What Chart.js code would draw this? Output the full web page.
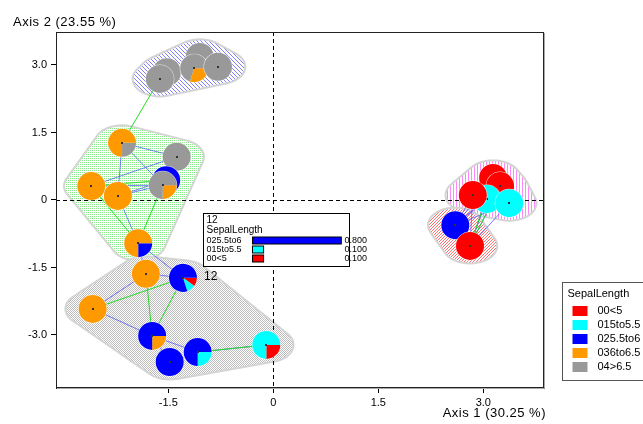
<!DOCTYPE html>
<html><head><meta charset="utf-8">
<script src="https://cdn.jsdelivr.net/npm/chart.js@4/dist/chart.umd.min.js"></script>
<style>html,body{margin:0;padding:0;background:#fff;}#wrap{width:643px;height:424px;position:relative;}</style>
</head><body><div id="wrap"><canvas id="c" width="643" height="424"></canvas></div>
<script>
// ---------- data ----------
const categories = ['00<5', '015to5.5', '025.5to6', '036to6.5', '04>6.5'];
const categoryColors = ['#ff0000', '#00ffff', '#0000ff', '#ff9900', '#999999'];
const variableName = 'SepalLength';
const xAxisTitle = 'Axis 1 (30.25 %)';
const yAxisTitle = 'Axis 2 (23.55 %)';
const xTicks = [-1.5, 0, 1.5, 3.0];
const xTickLabels = ['-1.5', '0', '1.5', '3.0'];
const yTicks = [-3.0, -1.5, 0, 1.5, 3.0];
const yTickLabels = ['-3.0', '-1.5', '0', '1.5', '3.0'];

const nodeX = [-1.52, -1.62, -1.05, -1.13, -0.79,
               -2.16, -1.38, -1.53, -1.58, -2.60, -2.22, -1.93,
               -1.82, -1.29, -2.58, -1.73, -1.08, -1.48, -0.10,
               3.14, 3.24, 3.05, 2.85, 3.37, 2.60, 2.81];
const nodeY = [2.84, 2.69, 3.18, 2.93, 2.96,
               1.27, 0.96, 0.44, 0.33, 0.31, 0.09, -0.96,
               -1.64, -1.73, -2.42, -3.02, -3.38, -3.60, -3.22,
               0.49, 0.31, 0.02, 0.11, -0.07, -0.56, -1.02];
const nodeGroup = [0, 0, 0, 0, 0,
                   1, 1, 1, 1, 1, 1, 1,
                   2, 2, 2, 2, 2, 2, 2,
                   3, 3, 3, 3, 3, 4, 4];
// category shares of each node
const shareLt5    = [0, 0, 0, 0, 0,   0, 0, 0, 0, 0, 0, 0,      0, 0.1, 0, 0, 0, 0, 0.25,   1, 1, 0, 1, 0, 0, 1];
const share5to55  = [0, 0, 0, 0, 0,   0, 0, 0, 0, 0, 0, 0,      0, 0.1, 0, 0, 0.25, 0, 0.75, 0, 0, 1, 0, 1, 0, 0];
const share55to6  = [0, 0, 0, 0, 0,   0, 0, 1, 0, 0, 0, 0.25,   0, 0.8, 0, 0.75, 0.75, 1, 0, 0, 0, 0, 0, 0, 1, 0];
const share6to65  = [0, 0, 0, 0.3, 0, 0.75, 0, 0, 0.25, 1, 1, 0.75, 1, 0, 1, 0.25, 0, 0, 0,  0, 0, 0, 0, 0, 0, 0];
const shareGt65   = [1, 1, 1, 0.7, 1, 0.25, 1, 0, 0.75, 0, 0, 0, 0, 0, 0, 0, 0, 0, 0,      0, 0, 0, 0, 0, 0, 0];

const edgesBlue = [[5,8],[5,10],[5,6],[9,8],[10,8],[10,7],[9,10],[10,11],[6,9],
                   [11,12],[11,13],[12,13],[12,14],[14,15],[15,16],[15,17],[16,18],
                   [24,19],[24,20],[24,22],[24,23],[24,21],[25,19],[25,20],[25,22],[25,23],[25,21]];
const edgesGreen = [[1,5],[9,7],[9,11],[8,11],[14,13],[12,15],[13,15],[16,18],[25,19],[25,20]];

const labelledNode = 13;
const labelledNodeName = '12';

// ---------- drawing helpers ----------
const shares = [shareLt5, share5to55, share55to6, share6to65, shareGt65];

function tile(ctx, size, color, cells) {
  const c = document.createElement('canvas');
  c.width = size; c.height = size;
  const g = c.getContext('2d');
  g.fillStyle = '#ffffff'; g.fillRect(0, 0, size, size);
  g.fillStyle = color;
  cells.forEach(([x, y]) => g.fillRect(x, y, 1, 1));
  return ctx.createPattern(c, 'repeat');
}
function makePattern(ctx, kind) {
  if (kind === 'blue') return tile(ctx, 4, '#8080ff', [[0,0],[1,1],[2,2],[3,3]]);
  if (kind === 'green') return tile(ctx, 2, '#88ec88', [[0,0]]);
  if (kind === 'gray') return tile(ctx, 2, '#bcbcbc', [[0,0],[1,1]]);
  if (kind === 'pink') return tile(ctx, 3, '#ff88ff', [[0,0],[0,1],[0,2]]);
  return tile(ctx, 3, '#ff7070', [[2,0],[1,1],[0,2]]);
}
const groupPatterns = ['blue', 'green', 'gray', 'pink', 'salmon'];

function convexHull(pts) {
  pts = pts.slice().sort((a,b) => a[0]-b[0] || a[1]-b[1]);
  const cross = (o,a,b) => (a[0]-o[0])*(b[1]-o[1]) - (a[1]-o[1])*(b[0]-o[0]);
  const lower = [], upper = [];
  for (const p of pts) { while (lower.length >= 2 && cross(lower[lower.length-2], lower[lower.length-1], p) <= 0) lower.pop(); lower.push(p); }
  for (let i = pts.length-1; i >= 0; i--) { const p = pts[i]; while (upper.length >= 2 && cross(upper[upper.length-2], upper[upper.length-1], p) <= 0) upper.pop(); upper.push(p); }
  upper.pop(); lower.pop();
  return lower.concat(upper);
}

const FONT = '"Liberation Sans", Arial, sans-serif';

const mapPlugin = {
  id: 'mapPlugin',
  beforeDatasetsDraw(chart) {
    const ctx = chart.ctx, xs = chart.scales.x, ys = chart.scales.y, a = chart.chartArea;
    const px = v => xs.getPixelForValue(v), py = v => ys.getPixelForValue(v);
    ctx.save();
    ctx.beginPath(); ctx.rect(a.left, a.top, a.right - a.left, a.bottom - a.top); ctx.clip();
    // group hulls
    const pad = 0.39;
    const rx = Math.abs(px(pad) - px(0)), ry = Math.abs(py(pad) - py(0));
    const nGroups = Math.max(...nodeGroup) + 1;
    for (let g = 0; g < nGroups; g++) {
      const pts = [];
      nodeGroup.forEach((gg, i) => {
        if (gg !== g) return;
        const cx = px(nodeX[i]), cy = py(nodeY[i]);
        for (let k = 0; k < 40; k++) { const t = k / 40 * Math.PI * 2; pts.push([cx + rx*Math.cos(t), cy + ry*Math.sin(t)]); }
      });
      const h = convexHull(pts);
      ctx.beginPath();
      h.forEach((p, k) => k ? ctx.lineTo(p[0], p[1]) : ctx.moveTo(p[0], p[1]));
      ctx.closePath();
      ctx.fillStyle = makePattern(ctx, groupPatterns[g]);
      ctx.fill();
      ctx.strokeStyle = '#d4d4d4'; ctx.lineWidth = 2; ctx.stroke();
    }
    // dashed origin lines
    ctx.strokeStyle = '#000'; ctx.lineWidth = 1; ctx.setLineDash([4, 3]);
    ctx.beginPath();
    ctx.moveTo(Math.round(px(0)) + 0.5, a.top); ctx.lineTo(Math.round(px(0)) + 0.5, a.bottom);
    ctx.moveTo(a.left, Math.round(py(0)) + 0.5); ctx.lineTo(a.right, Math.round(py(0)) + 0.5);
    ctx.stroke();
    ctx.setLineDash([]);
    // edges
    const drawEdges = (edges, color) => {
      ctx.strokeStyle = color; ctx.lineWidth = 1;
      edges.forEach(([i, j]) => {
        ctx.beginPath(); ctx.moveTo(px(nodeX[i]), py(nodeY[i])); ctx.lineTo(px(nodeX[j]), py(nodeY[j])); ctx.stroke();
      });
    };
    drawEdges(edgesBlue, 'rgba(80,80,255,0.75)');
    drawEdges(edgesGreen, '#22dd22');
    // pies
    const r = 14;
    nodeX.forEach((xv, i) => {
      const cx = px(xv), cy = py(nodeY[i]);
      const order = [0,1,2,3,4].filter(k => shares[k][i] > 0).sort((p, q) => shares[p][i] - shares[q][i] || p - q);
      const total = order.reduce((s, k) => s + shares[k][i], 0);
      let ang = 0;
      ctx.beginPath(); ctx.arc(cx, cy, r + 0.5, 0, Math.PI*2); ctx.fillStyle = 'rgba(255,255,255,0.8)'; ctx.fill();
      order.forEach(k => {
        const sweep = shares[k][i] / total * Math.PI * 2;
        ctx.beginPath(); ctx.moveTo(cx, cy); ctx.arc(cx, cy, r, ang, ang + sweep); ctx.closePath();
        ctx.fillStyle = categoryColors[k]; ctx.fill();
        ang += sweep;
      });
      ctx.fillStyle = '#333'; ctx.fillRect(Math.round(cx) - 1, Math.round(cy) - 1, 2, 2);
    });
    ctx.restore();
  },
  afterDraw(chart) {
    const ctx = chart.ctx, xs = chart.scales.x, ys = chart.scales.y, a = chart.chartArea;
    const px = v => xs.getPixelForValue(v), py = v => ys.getPixelForValue(v);
    ctx.save();
    // frame
    ctx.strokeStyle = '#222'; ctx.lineWidth = 1;
    ctx.strokeRect(a.left + 0.5, a.top + 0.5, a.right - a.left - 1, a.bottom - a.top - 1);
    ctx.strokeStyle = '#aaa';
    ctx.beginPath(); ctx.moveTo(a.right + 0.5, a.top + 1); ctx.lineTo(a.right + 0.5, a.bottom + 0.5); ctx.lineTo(a.left + 1, a.bottom + 0.5); ctx.stroke();
    // axis titles
    ctx.fillStyle = '#000'; ctx.font = '13px ' + FONT; ctx.textBaseline = 'middle';
    ctx.letterSpacing = '0.5px';
    ctx.textAlign = 'left'; ctx.fillText(yAxisTitle, 13, 22);
    ctx.textAlign = 'right'; ctx.fillText(xAxisTitle, 546, 413);
    ctx.letterSpacing = '0px';
    // node label
    const ncx = px(nodeX[labelledNode]), ncy = py(nodeY[labelledNode]);
    ctx.textAlign = 'left'; ctx.font = '12px ' + FONT;
    ctx.fillText(labelledNodeName, ncx + 21, ncy - 1);
    // info box for labelled node
    const bx = 203.5, by = 213.5, bw = 146, bh = 53;
    ctx.fillStyle = '#fff'; ctx.fillRect(bx, by, bw, bh);
    ctx.strokeStyle = '#000'; ctx.strokeRect(bx, by, bw, bh);
    ctx.fillStyle = '#000'; ctx.font = '10px ' + FONT;
    ctx.fillText(labelledNodeName, bx + 3, by + 7);
    ctx.fillText(variableName, bx + 3, by + 17);
    ctx.font = '9px ' + FONT;
    const rows = [4,3,2,1,0].filter(k => shares[k][labelledNode] > 0);
    rows.forEach((k, n) => {
      const yy = by + 27 + n * 9;
      const v = shares[k][labelledNode];
      ctx.fillStyle = '#000'; ctx.fillText(categories[k], bx + 3, yy);
      ctx.fillStyle = categoryColors[k]; ctx.fillRect(bx + 49, yy - 3.5, v * 111, 7);
      ctx.strokeStyle = '#000'; ctx.strokeRect(bx + 49, yy - 3.5, v * 111, 7);
      ctx.fillStyle = '#000'; ctx.fillText(v.toFixed(3), bx + 141, yy);
    });
    // legend
    const lx = 562.5, ly = 282.5;
    ctx.fillStyle = '#fff'; ctx.fillRect(lx, ly, 100, 98);
    ctx.strokeStyle = '#555'; ctx.strokeRect(lx, ly, 100, 98);
    ctx.fillStyle = '#000'; ctx.font = '11px ' + FONT;
    ctx.fillText(variableName, lx + 5, ly + 11);
    categories.forEach((c, k) => {
      const yy = ly + 28.5 + k * 14;
      ctx.fillStyle = categoryColors[k]; ctx.fillRect(lx + 10, yy - 5, 15, 10);
      ctx.fillStyle = '#000'; ctx.fillText(c, lx + 35, yy);
    });
    ctx.restore();
  }
};

const tickFont = { family: FONT, size: 11 };
new Chart(document.getElementById('c'), {
  type: 'scatter',
  data: { datasets: [{ data: nodeX.map((x, i) => ({ x, y: nodeY[i] })), pointRadius: 0, pointHoverRadius: 0 }] },
  options: {
    responsive: false, animation: false, events: [],
    layout: { padding: { left: 0, top: 32, right: 99, bottom: 0 } },
    plugins: { legend: { display: false }, tooltip: { enabled: false } },
    scales: {
      x: {
        type: 'linear', min: -3.104, max: 3.867,
        afterBuildTicks: s => { s.ticks = xTicks.map(v => ({ value: v })); },
        afterFit: s => { s.height = 36; },
        ticks: { callback: (v, i) => xTickLabels[i], font: tickFont, color: '#000', padding: 3, maxRotation: 0 },
        grid: { drawOnChartArea: false, drawTicks: true, tickLength: 5, color: '#000' },
        border: { display: true, color: '#222' }
      },
      y: {
        type: 'linear', min: -4.178, max: 3.733,
        afterBuildTicks: s => { s.ticks = yTicks.map(v => ({ value: v })); },
        afterFit: s => { s.width = 56; },
        ticks: { callback: (v, i) => yTickLabels[i], font: tickFont, color: '#000', padding: 4 },
        grid: { drawOnChartArea: false, drawTicks: true, tickLength: 5, color: '#000' },
        border: { display: true, color: '#222' }
      }
    }
  },
  plugins: [mapPlugin]
});
</script></body></html>
